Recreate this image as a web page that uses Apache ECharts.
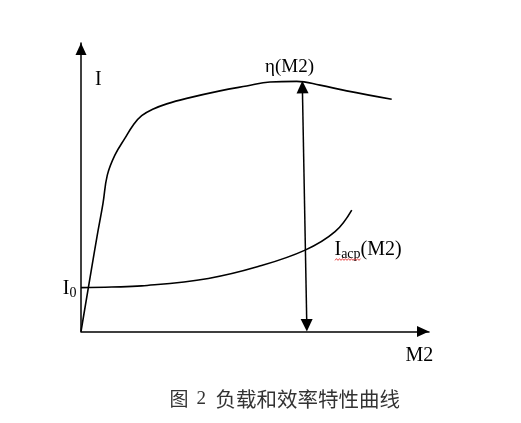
<!DOCTYPE html>
<html>
<head>
<meta charset="utf-8">
<script src="https://cdn.jsdelivr.net/npm/echarts@6/dist/echarts.min.js"></script>
<style>
html,body{margin:0;padding:0;background:#ffffff;}
#chart{width:521px;height:423px;}
</style>
</head>
<body>
<div id="chart"></div>
<script>
// ---- data (arbitrary units 0..100 on both axes) ----
const etaX = [0, 2.96, 4.60, 6.32, 7.56, 9.77, 12.64, 15.03, 17.44, 20.78, 24.63, 30.37, 39.94, 47.61, 54.31, 61.98, 68.68, 76.35, 89.28];
const etaY = [0, 21.3, 32.9, 44.4, 54.2, 61.2, 67.0, 71.6, 74.8, 77.1, 78.9, 80.8, 83.4, 85.1, 86.5, 86.7, 85.4, 83.4, 80.5];
const iacpX = [0, 8.8, 17.4, 36.6, 50.9, 64.4, 73.0, 77.8];
const iacpY = [15.2, 15.4, 15.8, 18.4, 22.5, 28.2, 34.6, 42.1];
const markerFrom = [63.6, 86.9];   // top of the double arrow (at η peak)
const markerTo = [64.9, 0];        // bottom of the double arrow (on M2 axis)
const xName = 'M2';
const yName = 'I';
const etaName = 'η(M2)';
const iacpMain = 'I';
const iacpSub = 'acp';
const iacpTail = '(M2)';
const i0Main = 'I';
const i0Sub = '0';
const captionFig = '图';
const captionNum = '2';
const captionText = '负载和效率特性曲线';

const zip = (xs, ys) => xs.map((x, i) => [x, ys[i]]);
const serif = 'Liberation Serif';

// red spell-check squiggle under "acp"
const squiggle = [];
for (let i = 0; i <= 17; i++) squiggle.push([335 + i * 1.5, i % 2 ? 258.6 : 260.4]);

const chart = echarts.init(document.getElementById('chart'), null, {renderer: 'canvas'});
chart.setOption({
  animation: false,
  backgroundColor: '#ffffff',
  grid: {left: 81, right: 92, top: 43, bottom: 91.5, containLabel: false},
  xAxis: {
    type: 'value', min: 0, max: 100,
    axisLine: {show: true, onZero: false, symbol: ['none', 'triangle'], symbolSize: [11, 12], symbolOffset: [0, -6],
      lineStyle: {color: '#000', width: 1.5}},
    axisTick: {show: false}, axisLabel: {show: false}, splitLine: {show: false}
  },
  yAxis: {
    type: 'value', min: 0, max: 100,
    axisLine: {show: true, onZero: false, symbol: ['none', 'triangle'], symbolSize: [11, 12], symbolOffset: [0, -6],
      lineStyle: {color: '#000', width: 1.5}},
    axisTick: {show: false}, axisLabel: {show: false}, splitLine: {show: false}
  },
  series: [
    {
      type: 'line', name: 'eta', data: zip(etaX, etaY), showSymbol: false, smooth: 0.4,
      lineStyle: {color: '#000', width: 1.6}, silent: true
    },
    {
      type: 'line', name: 'iacp', data: zip(iacpX, iacpY), showSymbol: false, smooth: 0.4,
      lineStyle: {color: '#000', width: 1.6}, silent: true
    },
    {
      type: 'custom', name: 'marker', silent: true, clip: false, z: 5,
      data: [[markerFrom[0], markerFrom[1], markerTo[0], markerTo[1]]],
      encode: {x: [0, 2], y: [1, 3]},
      renderItem: function (params, api) {
        const p1 = api.coord([api.value(0), api.value(1)]);
        const p2 = api.coord([api.value(2), api.value(3)]);
        const dx = p2[0] - p1[0], dy = p2[1] - p1[1];
        const L = Math.sqrt(dx * dx + dy * dy);
        const ux = dx / L, uy = dy / L, nx = -uy, ny = ux;
        const hl = 12.5, hw = 6;
        const head = function (tip, sx, sy) {
          const bx = tip[0] - sx * hl, by = tip[1] - sy * hl;
          return [[tip[0], tip[1]], [bx + nx * hw, by + ny * hw], [bx - nx * hw, by - ny * hw]];
        };
        return {
          type: 'group',
          children: [
            {type: 'line', shape: {x1: p1[0], y1: p1[1] + 4, x2: p2[0], y2: p2[1] - 4}, style: {stroke: '#000', lineWidth: 1.5}},
            {type: 'polygon', shape: {points: head(p1, -ux, -uy)}, style: {fill: '#000'}},
            {type: 'polygon', shape: {points: head(p2, ux, uy)}, style: {fill: '#000'}}
          ]
        };
      }
    }
  ],
  graphic: [
    {type: 'text', x: 95, y: 80, style: {text: yName, font: '20px ' + serif, fill: '#000', verticalAlign: 'middle'}},
    {type: 'text', x: 405.5, y: 356, style: {text: xName, font: '20px ' + serif, fill: '#000', verticalAlign: 'middle'}},
    {type: 'text', x: 265, y: 67.5, style: {text: etaName, font: '19px ' + serif, fill: '#000', verticalAlign: 'middle'}},
    {type: 'text', x: 76.5, y: 289, style: {
      text: '{a|' + i0Main + '}{b|' + i0Sub + '}', align: 'right', verticalAlign: 'middle',
      rich: {
        a: {fontFamily: serif, fontSize: 20, lineHeight: 22, verticalAlign: 'middle', fill: '#000'},
        b: {fontFamily: serif, fontSize: 14, lineHeight: 14, verticalAlign: 'bottom', fill: '#000'}
      }
    }},
    {type: 'text', x: 334.5, y: 250, style: {
      text: '{a|' + iacpMain + '}{b|' + iacpSub + '}{a|' + iacpTail + '}', align: 'left', verticalAlign: 'middle',
      rich: {
        a: {fontFamily: serif, fontSize: 20, lineHeight: 22, verticalAlign: 'middle', fill: '#000'},
        b: {fontFamily: serif, fontSize: 14, lineHeight: 14, verticalAlign: 'bottom', fill: '#000'}
      }
    }},
    {type: 'polyline', shape: {points: squiggle}, style: {stroke: '#e02020', lineWidth: 0.8, fill: null}},
    {type: 'text', x: 169.5, y: 399, style: {text: captionFig, font: '19px "Noto Sans CJK SC"', fill: '#333', verticalAlign: 'middle'}},
    {type: 'text', x: 196.5, y: 399, style: {text: captionNum, font: '19px ' + serif, fill: '#333', verticalAlign: 'middle'}},
    {type: 'text', x: 215.5, y: 399, style: {text: captionText, font: '20.5px "Noto Sans CJK SC"', fill: '#333', verticalAlign: 'middle'}}
  ]
});
</script>
</body>
</html>
